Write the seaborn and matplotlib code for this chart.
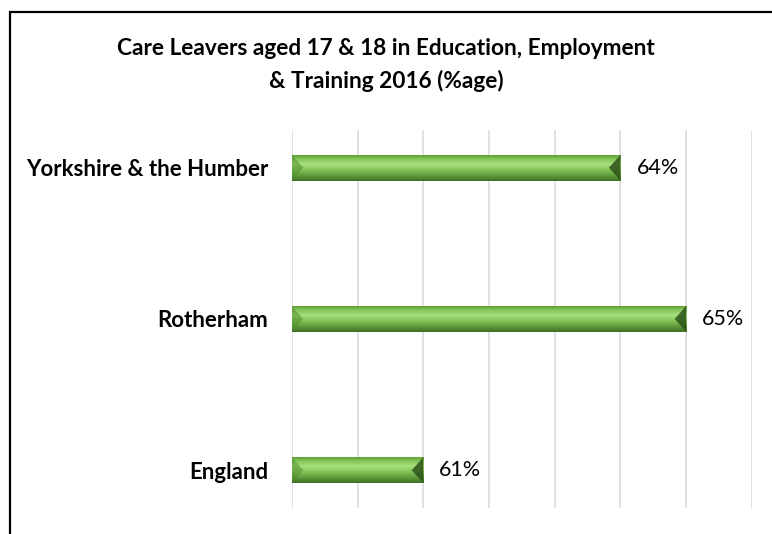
import numpy as np
import pandas as pd
import matplotlib
matplotlib.use("Agg")
import matplotlib.pyplot as plt
from matplotlib.patches import Rectangle, Polygon
from matplotlib.colors import LinearSegmentedColormap
import seaborn as sns

# Data
areas = ["Yorkshire & the Humber", "Rotherham", "England"]
pct_in_eet = [64, 65, 61]
value_labels = ["64%", "65%", "61%"]
title_text = "Care Leavers aged 17 & 18 in Education, Employment\n& Training 2016 (%age)"

sns.set_theme(style="white")
plt.rcParams["font.family"] = ["Lato", "DejaVu Sans"]

df = pd.DataFrame({"area": areas, "pct": pct_in_eet})

X_MIN, X_MAX = 59, 66

fig = plt.figure(figsize=(7.72, 5.34), dpi=100)
ax = fig.add_axes([0.378, 0.0487, 0.596, 0.7079])

sns.barplot(data=df, y="area", x="pct", orient="h", color="#6cae43",
            width=0.17, ax=ax, order=areas)

ax.set_xlim(X_MIN, X_MAX)
ax.set_ylim(2.25, -0.25)
ax.set_xticks(np.arange(X_MIN, X_MAX + 1, 1))
ax.xaxis.grid(True, color="#d9d9d9", linewidth=1.1)
ax.yaxis.grid(False)
ax.set_axisbelow(True)
ax.tick_params(axis="x", labelbottom=False, length=0)
ax.tick_params(axis="y", length=0, pad=17)
for lbl in ax.get_yticklabels():
    lbl.set_fontweight("bold")
    lbl.set_fontsize(16)
    lbl.set_color("black")
ax.set_xlabel("")
ax.set_ylabel("")
for s in ax.spines.values():
    s.set_visible(False)

# Bevelled green fill for the visible part of each bar
grad = LinearSegmentedColormap.from_list(
    "bevel",
    [(0.0, "#5f9e3a"), (0.12, "#7fc153"), (0.35, "#a9e07f"),
     (0.55, "#86c75a"), (0.8, "#5f9a3a"), (1.0, "#3e6f25")])
gimg = np.linspace(0, 1, 64).reshape(-1, 1)
for bar in ax.patches:
    y0, h = bar.get_y(), bar.get_height()
    x_start = max(bar.get_x(), X_MIN)
    x_end = bar.get_x() + bar.get_width()
    bar.set_visible(False)
    ax.imshow(gimg, cmap=grad, aspect="auto",
              extent=(x_start, x_end, y0 + h, y0), zorder=2.5,
              interpolation="bicubic")
    # end bevels: softer on the left, dark on the right
    bx = h * 151 / 65.7 * 0.45
    ax.add_patch(Polygon([(x_start, y0), (x_start + bx, y0 + h / 2), (x_start, y0 + h)],
                         closed=True, facecolor="#4d8a2d", alpha=0.5,
                         edgecolor="none", zorder=2.6))
    ax.add_patch(Polygon([(x_end, y0), (x_end - bx, y0 + h / 2), (x_end, y0 + h)],
                         closed=True, facecolor="#2c5219", alpha=0.85,
                         edgecolor="none", zorder=2.6))

# Value labels at the bar ends
for i, (v, t) in enumerate(zip(pct_in_eet, value_labels)):
    ax.annotate(t, xy=(v, i), xytext=(11.5, 0), textcoords="offset points",
                ha="left", va="center", fontsize=15.5, color="black")

ax.set_xlim(X_MIN, X_MAX)
ax.set_ylim(2.25, -0.25)

fig.text(0.5, 0.879, title_text, ha="center", va="center",
         fontsize=16.3, fontweight="bold", color="black", linespacing=1.6)

# Chart frame
fig.add_artist(Rectangle((9.5 / 772, -0.1), 1.2, 1.1 - 12.5 / 534,
                         transform=fig.transFigure, fill=False,
                         edgecolor="black", linewidth=1.6))

fig.savefig("out.png", dpi=100, facecolor="white")
